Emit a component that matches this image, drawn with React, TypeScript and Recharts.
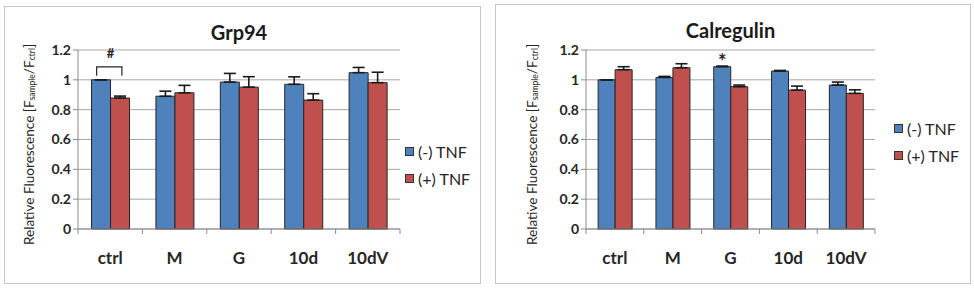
import React from "react";
import { BarChart, Bar, XAxis, YAxis, CartesianGrid, ErrorBar, LabelList, Legend } from "recharts";

const categories = ["ctrl", "M", "G", "10d", "10dV"];
const yTicks = [0, 0.2, 0.4, 0.6, 0.8, 1, 1.2];

const grpMinus = [1.0, 0.89, 0.985, 0.97, 1.048];
const grpMinusErr = [0, 0.034, 0.058, 0.05, 0.035];
const grpPlus = [0.878, 0.913, 0.951, 0.864, 0.981];
const grpPlusErr = [0.013, 0.05, 0.07, 0.043, 0.07];
const grpNotes = ["#", "", "", "", ""];

const calMinus = [1.0, 1.016, 1.088, 1.059, 0.965];
const calMinusErr = [0, 0.007, 0.004, 0.004, 0.02];
const calPlus = [1.068, 1.081, 0.954, 0.931, 0.909];
const calPlusErr = [0.02, 0.027, 0.011, 0.027, 0.024];
const calNotes = ["", "", "*", "", ""];

const BLUE = "#4f81bd";
const RED = "#c0504d";
const FONT = "Lato, 'Open Sans', sans-serif";
const X_AXIS_H = 30;

const build = (minus: number[], minusErr: number[], plus: number[], plusErr: number[], notes: string[]) =>
  categories.map((name, i) => ({
    name,
    minus: minus[i],
    minusErr: [0, minusErr[i]],
    plus: plus[i],
    plusErr: [0, plusErr[i]],
    note: notes[i],
  }));

const grpData = build(grpMinus, grpMinusErr, grpPlus, grpPlusErr, grpNotes);
const calData = build(calMinus, calMinusErr, calPlus, calPlusErr, calNotes);

const makeTick = (band: number, count: number) => (props: any) => {
  const { x, y, payload, index } = props;
  return (
    <g>
      <line x1={x - band / 2} x2={x - band / 2} y1={y} y2={y + 5} stroke="#8c8c8c" />
      {index === count - 1 && <line x1={x + band / 2} x2={x + band / 2} y1={y} y2={y + 5} stroke="#8c8c8c" />}
      <text x={x} y={y + 35} textAnchor="middle" fontSize={17} fontWeight={700} fill="#262626" fontFamily={FONT}>
        {payload.value}
      </text>
    </g>
  );
};

const makeYLabel = (dx: number) => (props: any) => {
  const vb = props.viewBox;
  const cx = vb.x + dx;
  const cy = vb.y + vb.height / 2 + 5;
  return (
    <text x={cx} y={cy} transform={`rotate(-90, ${cx}, ${cy})`} textAnchor="middle" dominantBaseline="central"
      fontSize={13.6} fill="#262626" fontFamily={FONT}>
      Relative Fluorescence [F
      <tspan fontSize={8.5} dy={3}>sample</tspan>
      <tspan dy={-3}>/F</tspan>
      <tspan fontSize={8.5} dy={3}>ctrl</tspan>
      <tspan dy={-3}>]</tspan>
    </text>
  );
};

const noteLabel = (props: any) => {
  const { x, y, width, value } = props;
  if (value === "#") {
    const l = x + width * 0.27;
    const r = x + width * 1.6;
    return (
      <g>
        <path d={`M${l},${y - 4} L${l},${y - 13} L${r},${y - 13} L${r},${y - 4}`} fill="none" stroke="#262626" strokeWidth={1.2} />
        <text x={x + width} y={y - 22} textAnchor="middle" fontSize={13} fontWeight={700} fill="#262626" fontFamily={FONT}>#</text>
      </g>
    );
  }
  if (value === "*") {
    return (
      <text x={x + width / 2} y={y + 2} textAnchor="middle" fontSize={20} fontWeight={700} fill="#262626" fontFamily={FONT}>*</text>
    );
  }
  return null;
};

const legendContent = () => (
  <div style={{ fontFamily: FONT, fontSize: 16, color: "#262626" }}>
    {[["(-) TNF", BLUE], ["(+) TNF", RED]].map(([label, color]) => (
      <div key={label} style={{ height: 27, display: "flex", alignItems: "center" }}>
        <span style={{ width: 9, height: 9, background: color, border: "1px solid #333", boxSizing: "border-box", marginRight: 4 }} />
        <span>{label}</span>
      </div>
    ))}
  </div>
);

interface PanelProps {
  title: string;
  data: any[];
  left: number;
  top: number;
  width: number;
  height: number;
  plot: { left: number; right: number; top: number; bottom: number };
  labelDx: number;
  legendPos: { left: number; top: number };
}

const Panel: React.FC<PanelProps> = ({ title, data, left, top, width, height, plot, labelDx, legendPos }) => {
  const band = (plot.right - plot.left) / categories.length;
  return (
    <div style={{ position: "absolute", left, top, width, height, border: "1px solid #c8c8c8", boxSizing: "border-box", background: "#fff" }}>
      <div style={{ position: "absolute", left: -1, top: -1 }}>
        <BarChart width={width} height={height} data={data} barGap={0} barCategoryGap="21%"
          margin={{ top: plot.top, right: width - plot.right, bottom: height - plot.bottom - X_AXIS_H, left: 0 }}>
          <text x={plot.left + (plot.right - plot.left) / 2} y={26} textAnchor="middle" dominantBaseline="central"
            fontSize={20} fontWeight={700} fill="#1a1a1a" fontFamily={FONT}>{title}</text>
          <CartesianGrid vertical={false} stroke="#a6a6a6" />
          <XAxis dataKey="name" height={X_AXIS_H} tickLine={false} tickSize={0} tickMargin={0} stroke="#8c8c8c"
            tick={makeTick(band, categories.length)} interval={0} />
          <YAxis width={plot.left} domain={[0, 1.2]} ticks={yTicks} tickSize={5} stroke="#8c8c8c"
            tick={{ fontSize: 14, fontWeight: 700, fill: "#262626", fontFamily: FONT }} label={makeYLabel(labelDx)} />
          <Legend layout="vertical" align="center" verticalAlign="middle" content={legendContent}
            wrapperStyle={{ left: legendPos.left, top: legendPos.top, width: 80, height: 54 }} />
          <Bar dataKey="minus" fill={BLUE} stroke="#262626" strokeWidth={1} isAnimationActive={false}>
            <ErrorBar dataKey="minusErr" width={6} stroke="#1a1a1a" strokeWidth={1.6} />
            <LabelList dataKey="note" content={noteLabel} />
          </Bar>
          <Bar dataKey="plus" fill={RED} stroke="#262626" strokeWidth={1} isAnimationActive={false}>
            <ErrorBar dataKey="plusErr" width={6} stroke="#1a1a1a" strokeWidth={1.6} />
          </Bar>
        </BarChart>
      </div>
    </div>
  );
};

export default function App() {
  return (
    <div style={{ position: "absolute", left: 0, top: 0, width: 974, height: 288, background: "#fff" }}>
      <Panel title="Grp94" data={grpData} left={4} top={6} width={477} height={278}
        plot={{ left: 74, right: 396, top: 44, bottom: 223 }} labelDx={25} legendPos={{ left: 401, top: 132 }} />
      <Panel title="Calregulin" data={calData} left={495} top={4} width={476} height={280}
        plot={{ left: 91, right: 380, top: 46, bottom: 225 }} labelDx={37} legendPos={{ left: 399, top: 111 }} />
    </div>
  );
}
